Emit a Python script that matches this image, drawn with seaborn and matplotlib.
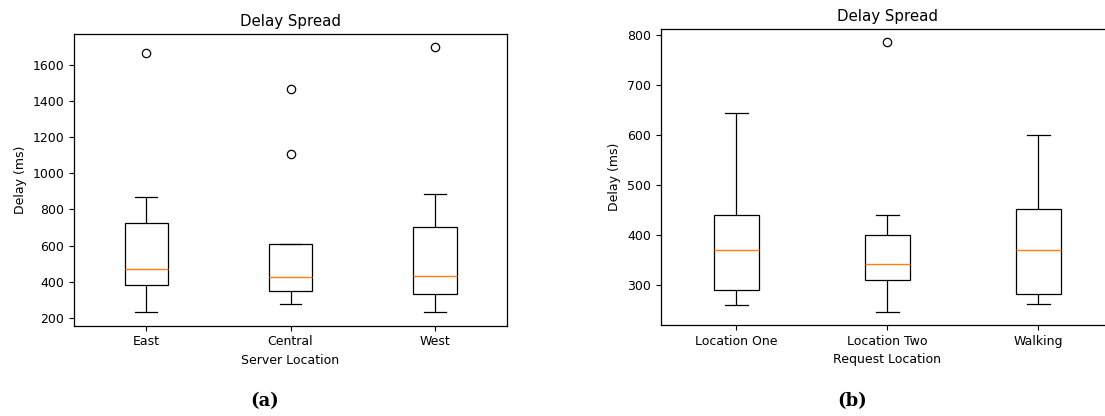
import matplotlib
matplotlib.use("Agg")
import matplotlib.pyplot as plt
import seaborn as sns
import pandas as pd

# (a) delay per server location, ms
server_locations = ["East", "Central", "West"]
east_delay = [230, 300, 380, 420, 468, 600, 726, 867, 1668]
central_delay = [276, 320, 350, 390, 424, 520, 607, 1105, 1467]
west_delay = [230, 290, 333, 380, 431, 560, 702, 884, 1698]

# (b) delay per request location, ms
request_locations = ["Location One", "Location Two", "Walking"]
loc_one_delay = [259, 275, 289, 330, 369, 400, 439, 520, 643]
loc_two_delay = [246, 280, 309, 325, 341, 370, 400, 439, 785]
walking_delay = [262, 270, 281, 320, 369, 410, 452, 520, 599]


def long_table(names, series):
    rows = []
    for name, vals in zip(names, series):
        rows += [(name, v) for v in vals]
    return pd.DataFrame(rows, columns=["location", "delay"])


df_a = long_table(server_locations, [east_delay, central_delay, west_delay])
df_b = long_table(request_locations, [loc_one_delay, loc_two_delay, walking_delay])

box_kw = dict(
    width=0.3,
    color="white",
    linecolor="black",
    linewidth=0.9,
    whis=1.5,
    medianprops=dict(color="#ff7f0e", linewidth=1),
    flierprops=dict(marker="o", markerfacecolor="none",
                    markeredgecolor="black", markersize=6, markeredgewidth=0.9),
)

fig = plt.figure(figsize=(11.05, 4.16), dpi=100)
ax_a = fig.add_axes([0.0670, 0.2171, 0.3919, 0.7012])
ax_b = fig.add_axes([0.5979, 0.2188, 0.4100, 0.7115])

for ax, df, xlabel in [(ax_a, df_a, "Server Location"), (ax_b, df_b, "Request Location")]:
    sns.boxplot(data=df, x="location", y="delay", ax=ax, **box_kw)
    ax.set_title("Delay Spread", fontsize=10.8)
    ax.set_xlabel(xlabel, fontsize=9)
    ax.set_ylabel("Delay (ms)", fontsize=9)
    ax.tick_params(labelsize=9)
    ax.set_xlim(-0.5, 2.5)
    for s in ax.spines.values():
        s.set_linewidth(0.9)

# right panel runs past the page edge in the original
ax_b.spines["right"].set_visible(False)

fig.text(265 / 1105, 1 - 401 / 416, "(a)", ha="center", va="center",
         fontsize=13, fontweight="bold", family="DejaVu Serif")
fig.text(852 / 1105, 1 - 401 / 416, "(b)", ha="center", va="center",
         fontsize=13, fontweight="bold", family="DejaVu Serif")

fig.savefig("out.png", dpi=100)
